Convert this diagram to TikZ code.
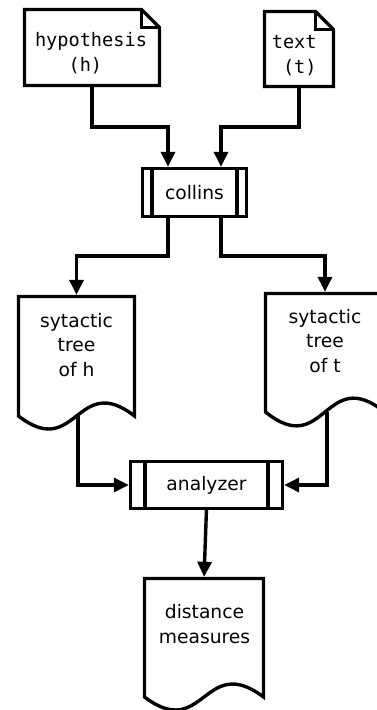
\documentclass[tikz,border=0pt]{standalone}
\usepackage{fontspec}
\setmainfont{DejaVu Sans}
\setmonofont{DejaVu Sans Mono}
\usetikzlibrary{arrows.meta,calc}
\begin{document}
\begin{tikzpicture}[x=1pt,y=-1pt,
  every node/.style={outer sep=0pt, inner sep=0pt},
  ln/.style={line width=3.4pt, line join=miter},
  sanstext/.style={font={\fontsize{18.7}{24.5}\selectfont}, align=center},
  monotext/.style={font={\ttfamily\fontsize{18.6}{25}\selectfont}, align=left},
  arr/.style={line width=3.4pt, -{Triangle[length=15pt,width=14pt]}, shorten >=1.7pt},
  procbox/.style={draw, line width=3.4pt, fill=white, font={\fontsize{18.7}{24.5}\selectfont}}]
\path[use as bounding box, fill=white] (0,0) rectangle (377,710);

% notes
\node[minimum width=135pt, minimum height=76pt] (hyp) at (92,47.5) {};
\draw[ln, fill=white] (hyp.south west) -- (hyp.north west) -- ([xshift=-18pt]hyp.north east) -- ([yshift=-18pt]hyp.north east) -- (hyp.south east) -- cycle;
\draw[ln] ([xshift=-18pt]hyp.north east) |- ([yshift=-18pt]hyp.north east);
\node[monotext] (hyplabel) at (91,53.5) {hypothesis\\\phantom{hyp}(h)};

\node[minimum width=69pt, minimum height=75pt] (txt) at (299,49) {};
\draw[ln, fill=white] (txt.south west) -- (txt.north west) -- ([xshift=-18pt]txt.north east) -- ([yshift=-18pt]txt.north east) -- (txt.south east) -- cycle;
\draw[ln] ([xshift=-18pt]txt.north east) |- ([yshift=-18pt]txt.north east);
\node[monotext] (txtlabel) at (294.2,55.5) {text\\\phantom{t}(t)};

% process boxes
\node[procbox, minimum width=104pt, minimum height=48pt] (col) at (194.5,192.5) {collins};
\draw[ln] ([xshift=9.5pt]col.north west) -- ([xshift=9.5pt]col.south west);
\draw[ln] ([xshift=-9.5pt]col.north east) -- ([xshift=-9.5pt]col.south east);

\node[procbox, minimum width=152pt, minimum height=47pt] (ana) at (206.5,485) {analyzer};
\draw[ln] ([xshift=14.5pt]ana.north west) -- ([xshift=14.5pt]ana.south west);
\draw[ln] ([xshift=-14.5pt]ana.north east) -- ([xshift=-14.5pt]ana.south east);

% documents
\node[minimum width=116pt, minimum height=119.5pt] (sth) at (76.5,356.25) {};
\draw[ln, fill=white] (sth.south east) -- (sth.north east) -- (sth.north west) -- (sth.south west)
  .. controls ($(sth.south)+(0pt,-45pt)$) and ($(sth.south)+(0pt,45pt)$) .. (sth.south east) -- cycle;
\node[sanstext] (sthlabel) at (76.5,344.7) {sytactic\\tree\\of h};

\node[minimum width=119pt, minimum height=118.5pt] (stt) at (325,352.75) {};
\draw[ln, fill=white] (stt.south east) -- (stt.north east) -- (stt.north west) -- (stt.south west)
  .. controls ($(stt.south)+(0pt,-48pt)$) and ($(stt.south)+(0pt,48pt)$) .. (stt.south east) -- cycle;
\node[sanstext] (sttlabel) at (325,340.7) {sytactic\\tree\\of t};

\node[minimum width=119pt, minimum height=118.5pt] (dist) at (204,637.75) {};
\draw[ln, fill=white] (dist.south east) -- (dist.north east) -- (dist.north west) -- (dist.south west)
  .. controls ($(dist.south)+(0pt,-45pt)$) and ($(dist.south)+(0pt,45pt)$) .. (dist.south east) -- cycle;
\node[sanstext] (distlabel) at (204.5,624.2) {distance\\measures};

% connectors
\coordinate (colNL) at ([xshift=-26.5pt]col.north);
\coordinate (colNR) at ([xshift=26.5pt]col.north);
\coordinate (colSL) at ([xshift=-26.5pt]col.south);
\coordinate (colSR) at ([xshift=26.5pt]col.south);
\draw[arr] (hyp.south) -- ++(0pt,-41.5pt) -| (colNL);
\draw[arr] (txt.south) -- ++(0pt,-40.5pt) -| (colNR);
\draw[arr] (colSL) -- ++(0pt,-39.5pt) -| (sth.north);
\draw[arr] (colSR) -- ++(0pt,-39.5pt) -| (stt.north);
\draw[arr] ([xshift=1.5pt]sth.south) |- (ana.west);
\draw[arr] ([xshift=2pt]stt.south) |- (ana.east);
\draw[arr] (ana.south) -- (dist.north);
\end{tikzpicture}
\end{document}
